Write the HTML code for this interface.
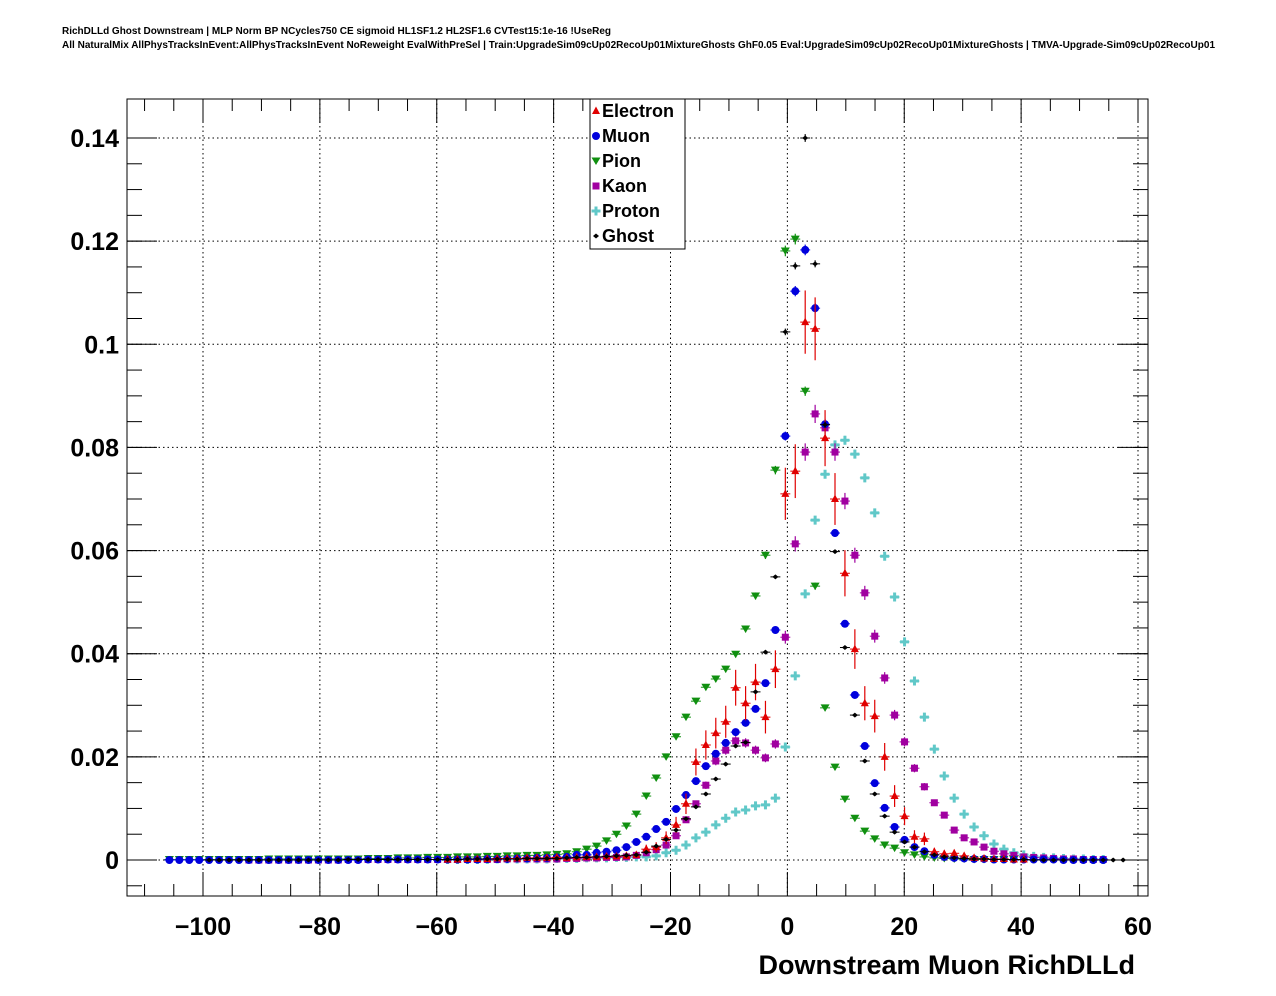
<!DOCTYPE html>
<html><head><meta charset="utf-8"><style>
body{margin:0;background:#fff;}
svg{display:block;font-family:"Liberation Sans",sans-serif;}
</style></head><body>
<svg id="chart" width="1276" height="996" viewBox="0 0 1276 996" xmlns="http://www.w3.org/2000/svg">
<rect width="1276" height="996" fill="#fff"/>
<text x="62" y="34" font-size="10" font-weight="bold" textLength="549">RichDLLd Ghost Downstream | MLP Norm BP NCycles750 CE sigmoid HL1SF1.2 HL2SF1.6 CVTest15:1e-16 !UseReg</text>
<text x="62" y="48" font-size="10" font-weight="bold" textLength="1153">All NaturalMix AllPhysTracksInEvent:AllPhysTracksInEvent NoReweight EvalWithPreSel | Train:UpgradeSim09cUp02RecoUp01MixtureGhosts GhF0.05 Eval:UpgradeSim09cUp02RecoUp01MixtureGhosts | TMVA-Upgrade-Sim09cUp02RecoUp01</text>
<g id="grid"></g>
<g id="axes"></g>
<g id="marks"></g>
<rect x="127" y="99" width="1021" height="797" fill="none" stroke="#000" stroke-width="1"/>
<text x="1135" y="974" font-size="27" font-weight="bold" text-anchor="end">Downstream Muon RichDLLd</text>
<g id="legend">
<rect x="590" y="99" width="95" height="150" fill="#fff" stroke="#000"/>
</g>
</svg>
<script>
const binLow = -110, binWidth = 1.7, nBins = 100;
const xTicks = [-100, -80, -60, -40, -20, 0, 20, 40, 60];
const yTicks = [0, 0.02, 0.04, 0.06, 0.08, 0.1, 0.12, 0.14];
const yTickLabels = ["0", "0.02", "0.04", "0.06", "0.08", "0.1", "0.12", "0.14"];
const seriesNames = ["Electron", "Muon", "Pion", "Kaon", "Proton", "Ghost"];
const N = null;
const pion = [N,N,
.0001,.0001,.0001,.0001,.0001,.0001,.0001,.0001,.0001,.0001,
.0002,.0002,.0002,.0002,.0002,.0002,.0002,.0002,.0002,.0002,
.0003,.0003,.0003,.0004,.0004,.0004,.0005,.0005,.0005,.0006,
.0006,.0006,.0007,.0007,.0008,.0008,.0009,.0009,.0010,.0011,
.0012,.0016,.0021,.0027,.0037,.0050,.0066,.0089,.0124,.0159,
.0200,.0239,.0277,.0308,.0335,.0351,.0370,.0399,.0448,.0512,
.0591,.0756,.1181,.1204,.0909,.0531,.0295,.0180,.0118,.0081,
.0056,.0041,.0029,.0023,.0014,.0010,.0006,.0004,.0003,.0002,
.0002,.0001,.0001,.0001,.0001,.0001,N,N,N,N,N,N,N,N,N,N];
const muon = [N,N,
0,0,0,0,0,0,0,0,0,0,
0,0,0,0,0,0,0,0,0,0,
.0001,.0001,.0001,.0001,.0001,.0001,.0001,.0001,.0001,.0001,
.0001,.0001,.0002,.0002,.0002,.0003,.0003,.0004,.0004,.0005,
.0006,.0010,.0010,.0014,.0016,.0019,.0025,.0035,.0045,.0060,
.0074,.0099,.0126,.0153,.0182,.0206,.0227,.0248,.0266,.0293,
.0343,.0446,.0822,.1103,.1183,.1070,.0845,.0634,.0458,.0320,
.0221,.0149,.0101,.0064,.0039,.0025,.0017,.0010,.0006,.0004,
.0003,.0002,.0002,.0001,.0001,.0001,.0001,.0001,.0001,.0001,0,0,0,0,0,N,N,N];
const electron = [N,N,N,N,N,N,N,N,N,N,N,N,N,N,N,N,N,N,N,N,N,N,N,N,N,N,N,N,N,N,
.0001,.0001,.0002,.0002,.0002,.0003,.0003,.0003,.0004,.0004,
.0004,.0005,.0004,.0005,.0006,.0006,.0007,.0007,.0008,.0010,
.0021,.0025,.0043,.0068,.0109,.0190,.0223,.0246,.0268,.0334,
.0304,.0345,.0277,.0370,.0710,.0754,.1043,.1030,.0818,.0700,
.0556,.0409,.0304,.0279,.0200,.0124,.0085,.0045,.0041,.0016,
.0012,.0013,.0008,.0004,.0003,.0002,.0002,.0001,.0001,N,N,N,N,N,N,N,N,N,N,N];
const kaon = [N,N,N,N,N,N,N,N,N,N,
0,0,0,0,0,0,0,0,0,0,
.0001,.0001,.0001,.0001,.0001,.0001,.0001,.0001,.0001,.0001,
.0001,.0001,.0001,.0001,.0001,.0001,.0002,.0002,.0002,.0002,
.0002,.0002,.0003,.0003,.0004,.0004,.0005,.0005,.0006,.0009,
.0014,.0020,.0029,.0047,.0078,.0109,.0145,.0192,.0213,.0231,
.0227,.0213,.0198,.0225,.0432,.0613,.0791,.0865,.0838,.0791,
.0696,.0591,.0518,.0434,.0353,.0281,.0229,.0178,.0142,.0111,
.0087,.0058,.0043,.0035,.0025,.0017,.0012,.0009,.0006,.0005,
.0004,.0003,.0002,.0002,.0001,.0001,.0001,N,N,N];
const proton = [N,N,N,N,N,N,N,N,N,N,N,N,N,N,N,N,N,N,N,N,N,N,N,N,N,N,N,N,N,N,
.0001,.0001,.0001,.0001,.0001,.0002,.0002,.0002,.0002,.0002,
.0002,.0003,.0003,.0003,.0004,.0004,.0004,.0005,.0005,.0006,
.0006,.0008,.0014,.0019,.0029,.0043,.0054,.0068,.0081,.0093,
.0097,.0105,.0107,.0120,.0219,.0357,.0516,.0659,.0748,.0805,
.0814,.0787,.0741,.0673,.0589,.0510,.0423,.0347,.0277,.0215,
.0163,.0120,.0089,.0064,.0047,.0031,.0021,.0014,.0010,.0007,
.0005,.0004,.0003,.0002,.0002,.0001,.0001,N,N,N];
const ghost = [N,N,N,N,N,N,
0,0,0,0,0,0,0,0,0,0,0,0,0,0,
.0001,.0001,.0001,.0001,.0001,.0001,.0001,.0001,.0001,.0001,
.0001,.0001,.0002,.0002,.0002,.0002,.0002,.0002,.0003,.0003,
.0003,.0003,.0004,.0005,.0005,.0006,.0007,.0008,.0009,.0010,
.0015,.0027,.0040,.0058,.0080,.0103,.0128,.0157,.0186,.0221,
.0228,.0326,.0403,.0549,.1024,.1152,.1400,.1156,.0844,.0598,
.0412,.0281,.0192,.0128,.0085,.0054,.0035,.0025,.0016,.0010,
.0006,.0004,.0003,.0002,.0002,.0001,.0001,.0001,.0001,0,
0,0,0,0,0,0,0,0,0,N];

const PX0 = 127, PX1 = 1148, PY0 = 99, PY1 = 896;
function xs(v){ return 203 + (v + 100) * (935 / 160); }
function ys(v){ return 860 - v * (722 / 0.14); }
const NS = "http://www.w3.org/2000/svg";
function mk(tag, attrs, parent){
  const e = document.createElementNS(NS, tag);
  for (const k in attrs) e.setAttribute(k, attrs[k]);
  parent.appendChild(e);
  return e;
}
const grid = document.getElementById('grid');
const axes = document.getElementById('axes');
const marks = document.getElementById('marks');

xTicks.forEach((t) => {
  const x = xs(t);
  const g = mk('line', {x1:x, x2:x, y1:PY0, y2:PY1, stroke:'#000', 'stroke-dasharray':'1.5,3', 'stroke-width':1}, grid);
  
  
  const tb = mk('line', {x1:x, x2:x, y1:PY1, y2:PY1-24, stroke:'#000'}, axes);
  
  
  mk('line', {x1:x, x2:x, y1:PY0, y2:PY0+24, stroke:'#000'}, axes);
  const lb = mk('text', {x:x, y:935, 'font-size':25, 'font-weight':'bold', 'text-anchor':'middle'}, axes);
  lb.textContent = (t < 0 ? '\u2212' + (-t) : String(t));
  
  
});
for (let v = -110; v <= 60; v += 5) {
  if (v % 20 === 0) continue;
  const x = xs(v);
  if (x < PX0 || x > PX1) continue;
  mk('line', {x1:x, x2:x, y1:PY1, y2:PY1-12, stroke:'#000'}, axes);
  mk('line', {x1:x, x2:x, y1:PY0, y2:PY0+12, stroke:'#000'}, axes);
}
yTicks.forEach((t, i) => {
  const y = ys(t);
  const g = mk('line', {x1:PX0, x2:PX1, y1:y, y2:y, stroke:'#000', 'stroke-dasharray':'1.5,3', 'stroke-width':1}, grid);
  
  
  mk('line', {x1:PX0, x2:PX0+30, y1:y, y2:y, stroke:'#000'}, axes);
  mk('line', {x1:PX1, x2:PX1-30, y1:y, y2:y, stroke:'#000'}, axes);
  const lb = mk('text', {x:119, y:y+9, 'font-size':25, 'font-weight':'bold', 'text-anchor':'end'}, axes);
  lb.textContent = yTickLabels[i];
  
  
});
for (let v = -0.005; v <= 0.145; v += 0.005) {
  const y = ys(v);
  if (y < PY0 || y > PY1) continue;
  mk('line', {x1:PX0, x2:PX0+15, y1:y, y2:y, stroke:'#000'}, axes);
  mk('line', {x1:PX1, x2:PX1-15, y1:y, y2:y, stroke:'#000'}, axes);
}

function marker(kind, x, y, color, parent){
  let e;
  if (kind === 'tu') e = mk('polygon', {points:`${x},${y-4.5} ${x-4},${y+3} ${x+4},${y+3}`, fill:color}, parent);
  else if (kind === 'td') e = mk('polygon', {points:`${x-4.5},${y-3.5} ${x+4.5},${y-3.5} ${x},${y+4}`, fill:color}, parent);
  else if (kind === 'c') e = mk('circle', {cx:x, cy:y, r:4, fill:color}, parent);
  else if (kind === 's') e = mk('rect', {x:x-3.5, y:y-3.5, width:7, height:7, fill:color}, parent);
  else if (kind === 'p') e = mk('path', {d:`M${x-4.5},${y-1.5}h3v-3h3v3h3v3h-3v3h-3v-3h-3z`, fill:color}, parent);
  else e = mk('path', {d:`M${x-3},${y}L${x},${y-2.5}L${x+3},${y}L${x},${y+2.5}z`, fill:color}, parent);
  return e;
}
const series = [
  {name:'Electron', data:electron, color:'#e00000', kind:'tu', errK:0.019},
  {name:'Muon', data:muon, color:'#0000dd', kind:'c', errK:0.003},
  {name:'Pion', data:pion, color:'#109010', kind:'td', errK:0.003},
  {name:'Kaon', data:kaon, color:'#a000a0', kind:'s', errK:0.006},
  {name:'Proton', data:proton, color:'#60c8c8', kind:'p', errK:0.003},
  {name:'Ghost', data:ghost, color:'#000000', kind:'d', errK:0.002}
];
const order = [4,3,2,1,0,5];
order.forEach((si) => {
  const s = series[si];
  const g = mk('g', {}, marks);
  
  
  s.data.forEach((v, k) => {
    if (v === null) return;
    const c = binLow + (k + 0.5) * binWidth;
    const x = xs(c), y = ys(v);
    const xl = xs(c - binWidth/2), xr = xs(c + binWidth/2);
    mk('line', {x1:xl, x2:xr, y1:y, y2:y, stroke:s.color, 'stroke-width':1}, g);
    const err = s.errK * Math.sqrt(Math.max(v, 0));
    if (err > 0.0005) mk('line', {x1:x, x2:x, y1:ys(v+err), y2:ys(v-err), stroke:s.color, 'stroke-width':1.2}, g);
    const m = marker(s.kind, x, y, s.color, g);
    
    
  });
});

const leg = document.getElementById('legend');
seriesNames.forEach((n, i) => {
  const s = series[i];
  const y = 111 + i * 25;
  const m = marker(s.kind, 596, y, s.color, leg);
  
  
  const t = mk('text', {x:602, y:y+6, 'font-size':18, 'font-weight':'bold'}, leg);
  t.textContent = n;
  
  
});
</script>
</body></html>
